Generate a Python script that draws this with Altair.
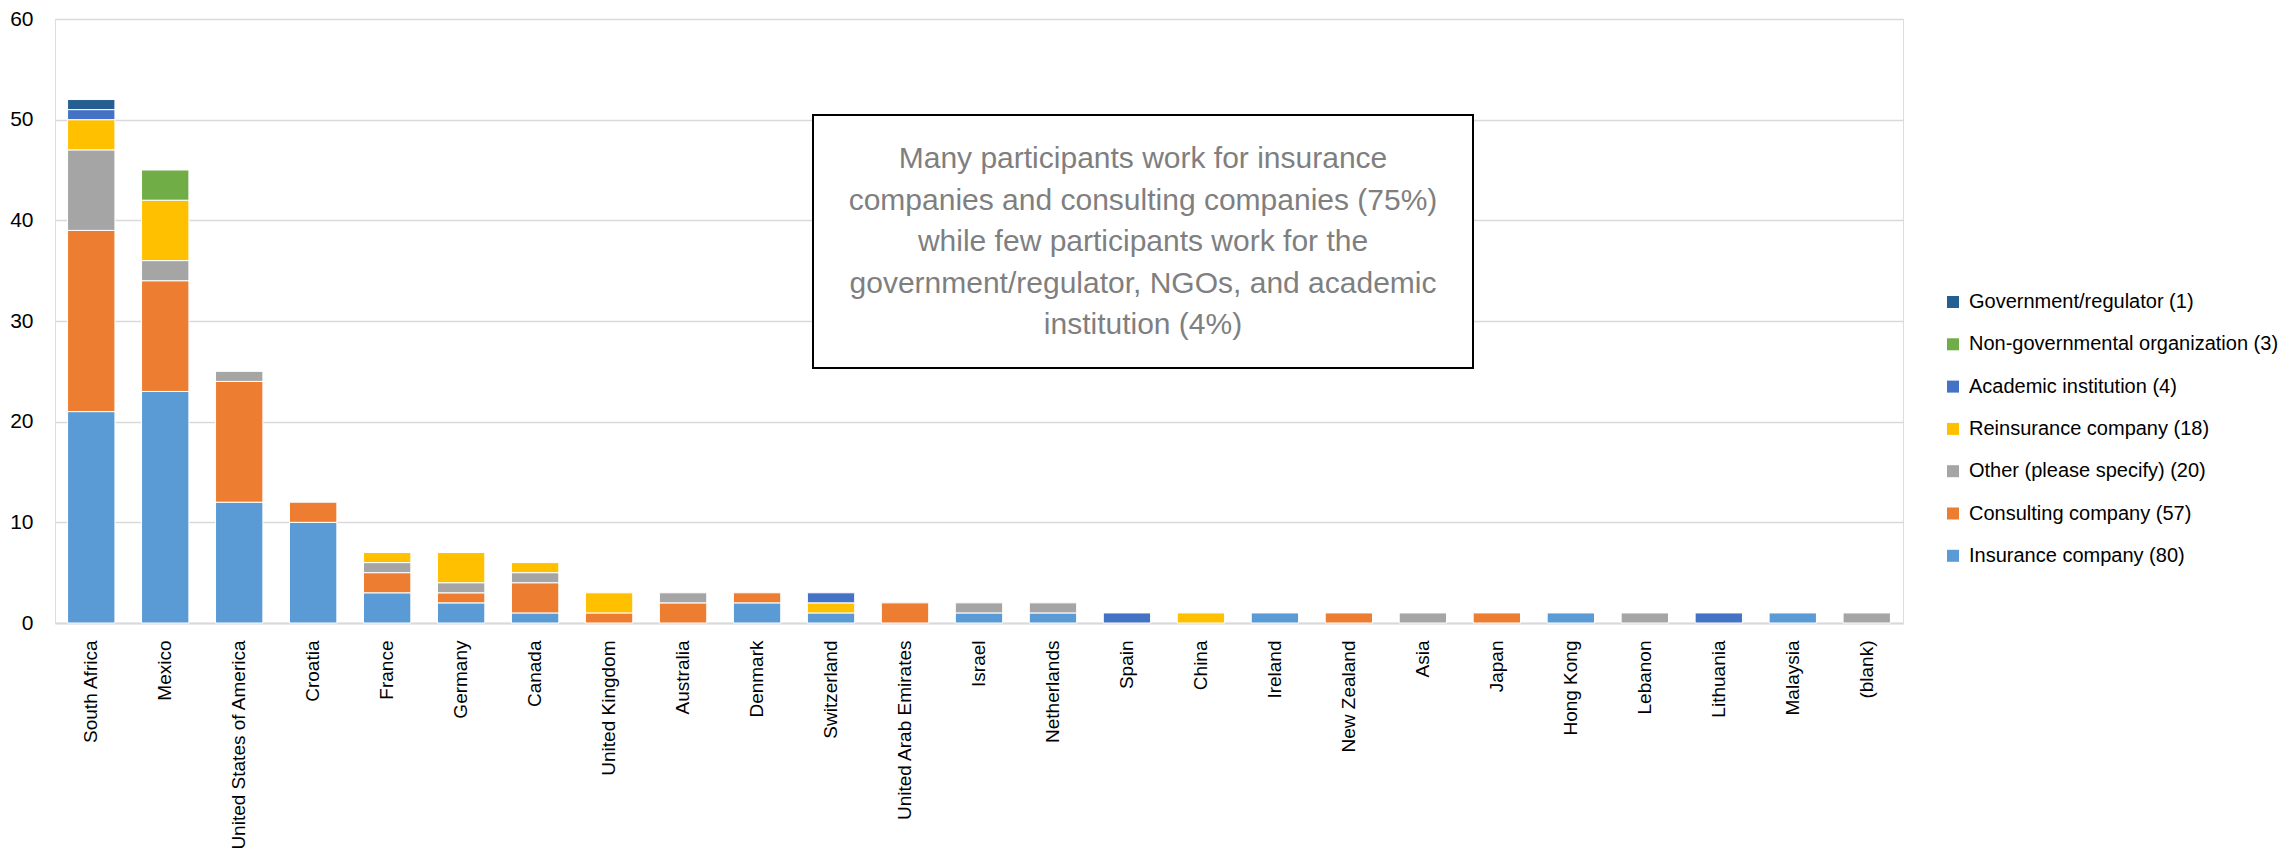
import altair as alt
import pandas as pd

countries = ["South Africa", "Mexico", "United States of America", "Croatia", "France",
             "Germany", "Canada", "United Kingdom", "Australia", "Denmark", "Switzerland",
             "United Arab Emirates", "Israel", "Netherlands", "Spain", "China", "Ireland",
             "New Zealand", "Asia", "Japan", "Hong Kong", "Lebanon", "Lithuania", "Malaysia",
             "(blank)"]

insurance   = [21, 23, 12, 10, 3, 2, 1, 0, 0, 2, 1, 0, 1, 1, 0, 0, 1, 0, 0, 0, 1, 0, 0, 1, 0]
consulting  = [18, 11, 12, 2, 2, 1, 3, 1, 2, 1, 0, 2, 0, 0, 0, 0, 0, 1, 0, 1, 0, 0, 0, 0, 0]
other       = [8, 2, 1, 0, 1, 1, 1, 0, 1, 0, 0, 0, 1, 1, 0, 0, 0, 0, 1, 0, 0, 1, 0, 0, 1]
reinsurance = [3, 6, 0, 0, 1, 3, 1, 2, 0, 0, 1, 0, 0, 0, 0, 1, 0, 0, 0, 0, 0, 0, 0, 0, 0]
academic    = [1, 0, 0, 0, 0, 0, 0, 0, 0, 0, 1, 0, 0, 0, 1, 0, 0, 0, 0, 0, 0, 0, 1, 0, 0]
ngo         = [0, 3, 0, 0, 0, 0, 0, 0, 0, 0, 0, 0, 0, 0, 0, 0, 0, 0, 0, 0, 0, 0, 0, 0, 0]
government  = [1, 0, 0, 0, 0, 0, 0, 0, 0, 0, 0, 0, 0, 0, 0, 0, 0, 0, 0, 0, 0, 0, 0, 0, 0]

# bottom-to-top stacking order
series_names = ["Insurance company (80)", "Consulting company (57)", "Other (please specify) (20)",
                "Reinsurance company (18)", "Academic institution (4)",
                "Non-governmental organization (3)", "Government/regulator (1)"]
series_values = [insurance, consulting, other, reinsurance, academic, ngo, government]
series_colors = ["#5B9BD5", "#ED7D31", "#A5A5A5", "#FFC000", "#4472C4", "#70AD47", "#255E91"]

note_lines = ["Many participants work for insurance",
              "companies and consulting companies (75%)",
              "while few participants work for the",
              "government/regulator, NGOs, and academic",
              "institution (4%)"]

rows = []
for s_idx, (name, vals) in enumerate(zip(series_names, series_values)):
    for c, v in zip(countries, vals):
        if v > 0:
            rows.append({"country": c, "type": name, "count": v, "stack": s_idx})
df = pd.DataFrame(rows)

FONT = "Liberation Sans, Arial, sans-serif"

legend_domain = list(reversed(series_names))
legend_range = list(reversed(series_colors))

bars = alt.Chart(df).mark_bar(stroke="white", strokeWidth=1).encode(
    x=alt.X("country:N", sort=countries, title=None,
            scale=alt.Scale(paddingInner=0.36, paddingOuter=0.17),
            axis=alt.Axis(labelAngle=270, labelFontSize=19, labelFont=FONT, labelColor="#000000",
                          ticks=False, domainColor="#D9D9D9", domainWidth=2, labelPadding=17,
                          labelAlign="right", labelBaseline="middle", labelLimit=400)),
    y=alt.Y("sum(count):Q", title=None,
            scale=alt.Scale(domain=[0, 60]),
            axis=alt.Axis(values=[0, 10, 20, 30, 40, 50, 60], labelFontSize=21, labelFont=FONT,
                          labelColor="#000000", ticks=False, domain=False, gridColor="#D9D9D9",
                          gridWidth=1.5, labelPadding=22)),
    color=alt.Color("type:N", title=None,
                    scale=alt.Scale(domain=legend_domain, range=legend_range),
                    legend=alt.Legend(orient="none", legendX=1888, legendY=273,
                                      symbolType="square", symbolSize=144, symbolStrokeWidth=0,
                                      labelFontSize=20, labelFont=FONT, labelColor="#000000",
                                      labelOffset=6, rowPadding=22.3, padding=0,
                                      labelLimit=400)),
    order=alt.Order("stack:Q", sort="ascending"),
)

box = alt.Chart(pd.DataFrame({"k": [0]})).mark_rect(
    fill="white", stroke="black", strokeWidth=2
).encode(x=alt.value(758), x2=alt.value(1418), y=alt.value(96), y2=alt.value(349))

note = alt.Chart(pd.DataFrame({"k": [0]})).mark_text(
    text=note_lines, font=FONT, fontSize=30, color="#7F7F7F", align="center",
    baseline="middle", lineHeight=41.5
).encode(x=alt.value(1088), y=alt.value(140))

chart = alt.layer(bars, box, note).properties(
    width=1848, height=604,
    autosize=alt.AutoSizeParams(type="none"),
    padding={"left": 47, "top": 11, "right": 378, "bottom": 233},
).configure_view(stroke=None).configure(font=FONT)

chart.save("out.html", embed_options={"renderer": "svg", "actions": False})
